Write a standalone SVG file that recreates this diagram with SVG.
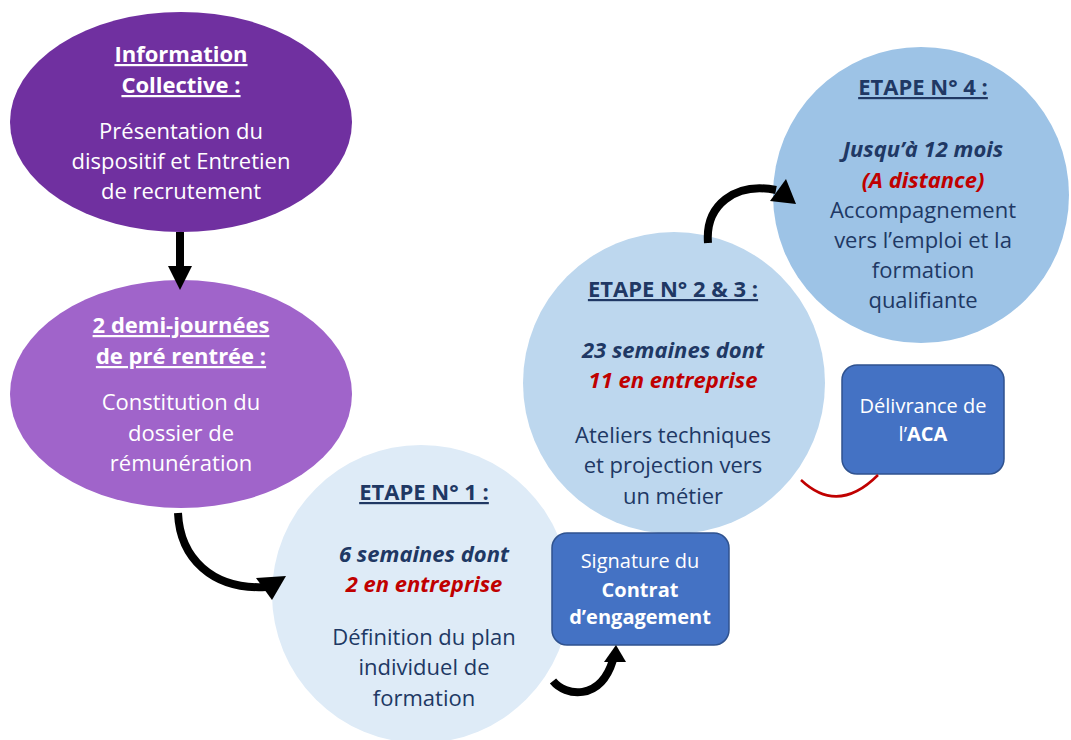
<svg xmlns="http://www.w3.org/2000/svg" width="1071" height="740" viewBox="0 0 1071 740">
<style>
text{font-family:"Open Sans",Lato,"Liberation Sans",sans-serif;text-anchor:middle;font-size:22px}
.w{fill:#ffffff}
.n{fill:#203864}
.r{fill:#C00000}
.b{font-weight:bold}
.bi{font-weight:bold;font-style:italic}
.u{text-decoration:underline}
.box{fill:#4472C4;stroke:#2F528F;stroke-width:1.5}
.box text{font-size:20px}
.arr{fill:none;stroke:#000;stroke-width:8}
</style>
<rect width="1071" height="740" fill="#ffffff"/>
<g id="etape1">
<circle cx="421" cy="594" r="149" fill="#DEEBF7"/>
<text x="424" y="500" class="n b u">ETAPE N° 1 :</text>
<text x="424" y="562" class="n bi">6 semaines dont</text>
<text x="424" y="592" class="r bi">2 en entreprise</text>
<text x="424" y="645" class="n">Définition du plan</text>
<text x="424" y="675" class="n">individuel de</text>
<text x="424" y="706" class="n">formation</text>
</g>
<g id="info">
<ellipse cx="181" cy="122" rx="171" ry="110" fill="#7030A0"/>
<text x="181" y="62" class="w b u">Information</text>
<text x="181" y="93" class="w b u">Collective :</text>
<text x="181" y="139" class="w">Présentation du</text>
<text x="181" y="169" class="w">dispositif et Entretien</text>
<text x="181" y="199" class="w">de recrutement</text>
</g>
<g id="prerentree">
<ellipse cx="181" cy="394" rx="171" ry="114" fill="#A064CA"/>
<text x="181" y="333" class="w b u">2 demi-journées</text>
<text x="181" y="364" class="w b u">de pré rentrée :</text>
<text x="181" y="410" class="w">Constitution du</text>
<text x="181" y="441" class="w">dossier de</text>
<text x="181" y="471" class="w">rémunération</text>
</g>
<g id="etape23">
<circle cx="674" cy="383" r="151" fill="#BDD7EE"/>
<text x="673" y="297" class="n b u">ETAPE N° 2 &amp; 3 :</text>
<text x="673" y="358" class="n bi">23 semaines dont</text>
<text x="673" y="388" class="r bi">11 en entreprise</text>
<text x="673" y="443" class="n">Ateliers techniques</text>
<text x="673" y="473" class="n">et projection vers</text>
<text x="673" y="504" class="n">un métier</text>
</g>
<g id="etape4">
<circle cx="921" cy="195" r="148" fill="#9DC3E6"/>
<text x="923" y="95" class="n b u">ETAPE N° 4 :</text>
<text x="923" y="157" class="n bi">Jusqu’à 12 mois</text>
<text x="923" y="188" class="r bi">(A distance)</text>
<text x="923" y="218" class="n">Accompagnement</text>
<text x="923" y="248" class="n">vers l’emploi et la</text>
<text x="923" y="278" class="n">formation</text>
<text x="923" y="308" class="n">qualifiante</text>
</g>
<g id="signature" class="box">
<rect x="552" y="533" width="177" height="112" rx="15"/>
<text x="640" y="568" class="w" stroke="none">Signature du</text>
<text x="640" y="597" class="w b" stroke="none">Contrat</text>
<text x="640" y="624" class="w b" stroke="none">d’engagement</text>
</g>
<g id="delivrance" class="box">
<rect x="842" y="365" width="162" height="109" rx="15"/>
<text x="923" y="413" class="w" stroke="none">Délivrance de</text>
<text x="923" y="441" class="w" stroke="none">l’<tspan class="b">ACA</tspan></text>
</g>
<g id="connectors">
<line x1="180" y1="232" x2="180" y2="268" stroke="#000" stroke-width="8"/>
<polygon points="168,266 192,266 180,290" fill="#000"/>
<path class="arr" d="M178 513 C180 558 212 590 266 587"/>
<polygon points="286,576 256,578 272,600" fill="#000"/>
<path class="arr" d="M553 681 C565 696 600 702 613 660"/>
<polygon points="604,662 626,662 616,645" fill="#000"/>
<path class="arr" d="M708 243 C705 205 735 182 776 190"/>
<polygon points="796,204 786,179 770,201" fill="#000"/>
<path d="M801 480 Q838 515 878 475" fill="none" stroke="#C00000" stroke-width="2.5"/>
</g>
</svg>
